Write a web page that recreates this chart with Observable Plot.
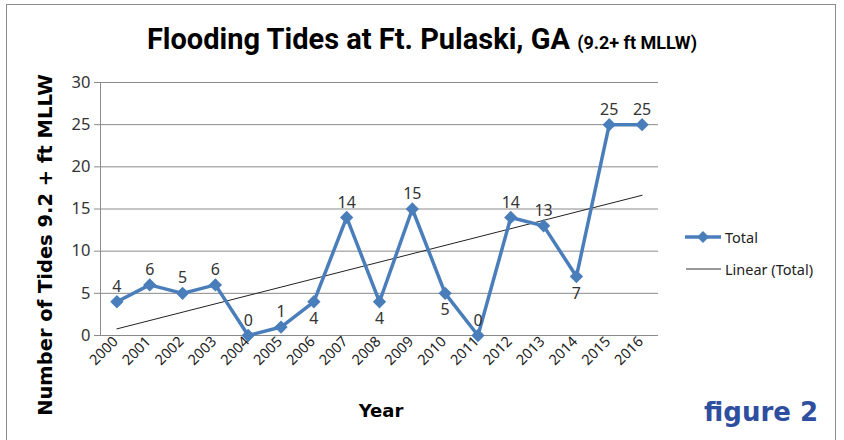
<!DOCTYPE html>
<html>
<head>
<meta charset="utf-8">
<script src="https://cdn.jsdelivr.net/npm/d3@7"></script>
<script src="https://cdn.jsdelivr.net/npm/@observablehq/plot@0.6"></script>
<style>
  html, body { margin: 0; padding: 0; background: #fff; overflow: hidden; }
  #wrap { position: relative; width: 844px; height: 440px; overflow: hidden; }
  #frame { position: absolute; left: 6px; top: 4px; width: 830px; height: 460px; border: 1px solid #8c8c8c; box-sizing: border-box; }
  #chart { position: absolute; left: 0; top: 0; }
  .abs { position: absolute; white-space: nowrap; }
  #title { left: 0; width: 844px; top: 22px; text-align: center; font-family: Roboto, "Open Sans", sans-serif; font-weight: bold; font-size: 29px; color: #000; }
  #title small { font-size: 18px; }
  #ylab { left: 45px; top: 245px; transform: translate(-50%, -50%) rotate(-90deg); font-family: "DejaVu Sans", sans-serif; font-weight: bold; font-size: 19.5px; color: #000; }
  #xlab { left: 381px; top: 410px; transform: translate(-50%, -50%); font-family: "DejaVu Sans", sans-serif; font-weight: bold; font-size: 18px; color: #000; }
  #fig { left: 704px; top: 397px; font-family: "DejaVu Sans", sans-serif; font-weight: bold; font-size: 26px; color: #2e4ea0; }
  .leg { font-family: "Noto Sans", sans-serif; font-size: 14.5px; color: #222; display: flex; align-items: center; }
</style>
</head>
<body>
<div id="wrap">
  <div id="frame"></div>
  <div id="chart"></div>
  <div id="title" class="abs">Flooding Tides at Ft. Pulaski, GA <small>(9.2+ ft MLLW)</small></div>
  <div id="ylab" class="abs">Number of Tides 9.2 + ft MLLW</div>
  <div id="xlab" class="abs">Year</div>
  <div id="fig" class="abs">figure 2</div>
  <div class="abs leg" style="left:684px; top:227px;">
    <svg width="38" height="20"><line x1="1" y1="10" x2="37" y2="10" stroke="#4a7ebb" stroke-width="3.5"/><path d="M19,4 L25,10 L19,16 L13,10 Z" fill="#4a7ebb"/></svg>
    <span style="margin-left:3px">Total</span>
  </div>
  <div class="abs leg" style="left:684px; top:259px;">
    <svg width="38" height="20"><line x1="2" y1="10" x2="37" y2="10" stroke="#333" stroke-width="1"/></svg>
    <span style="margin-left:3px">Linear (Total)</span>
  </div>
</div>
<script>
const years = [2000, 2001, 2002, 2003, 2004, 2005, 2006, 2007, 2008, 2009, 2010, 2011, 2012, 2013, 2014, 2015, 2016];
const totals = [4, 6, 5, 6, 0, 1, 4, 14, 4, 15, 5, 0, 14, 13, 7, 25, 25];
const yTicks = [0, 5, 10, 15, 20, 25, 30];
const labelsBelow = [2006, 2008, 2010, 2014];

const data = years.map((y, i) => ({year: y, total: totals[i], below: labelsBelow.includes(y)}));
const blue = "#4a7ebb";

const chart = Plot.plot({
  width: 844,
  height: 440,
  marginLeft: 100,
  marginRight: 186,
  marginTop: 82,
  marginBottom: 105,
  style: {fontFamily: "'Noto Sans', sans-serif", color: "#333", background: "transparent"},
  x: {type: "linear", domain: [years[0] - 0.5, years[years.length - 1] + 0.5], axis: null},
  y: {domain: [0, 30]},
  marks: [
    Plot.gridY(yTicks, {stroke: "#8a8a8a", strokeOpacity: 1, strokeWidth: 1}),
    Plot.ruleX([years[0] - 0.5], {stroke: "#8a8a8a"}),
    Plot.axisY(yTicks, {tickSize: 6, tickPadding: 4, stroke: "#8a8a8a", label: null, tickFormat: () => ""}),
    Plot.text(yTicks, {y: d => d, frameAnchor: "left", textAnchor: "end", dx: -10, fontSize: 16.5, fill: "#333", text: d => String(d)}),
    Plot.text(years, {x: d => d, frameAnchor: "bottom", textAnchor: "end", rotate: -45, dx: 2, dy: 7, fontSize: 14.5, fill: "#222", text: d => String(d)}),
    Plot.linearRegressionY(data, {x: "year", y: "total", ci: 0, stroke: "#222", strokeWidth: 1}),
    Plot.line(data, {x: "year", y: "total", stroke: blue, strokeWidth: 3.5}),
    Plot.dot(data, {x: "year", y: "total", symbol: "diamond2", r: 6, fill: blue, stroke: "none"}),
    Plot.text(data.filter(d => !d.below), {x: "year", y: "total", text: d => String(d.total), dy: -15, fontSize: 16, fill: "#333"}),
    Plot.text(data.filter(d => d.below), {x: "year", y: "total", text: d => String(d.total), dy: 17, fontSize: 16, fill: "#333"})
  ]
});
document.getElementById("chart").appendChild(chart);
</script>
</body>
</html>
